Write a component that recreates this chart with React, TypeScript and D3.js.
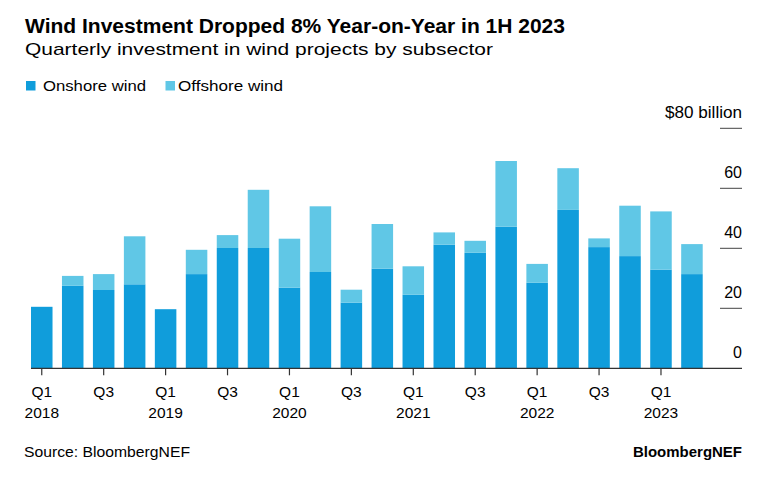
import React from "react";
import * as d3 from "d3";

const quarters = [
  "Q1 2018", "Q2 2018", "Q3 2018", "Q4 2018",
  "Q1 2019", "Q2 2019", "Q3 2019", "Q4 2019",
  "Q1 2020", "Q2 2020", "Q3 2020", "Q4 2020",
  "Q1 2021", "Q2 2021", "Q3 2021", "Q4 2021",
  "Q1 2022", "Q2 2022", "Q3 2022", "Q4 2022",
  "Q1 2023", "Q2 2023",
];
const onshore = [
  20.5, 27.5, 26.1, 28.0,
  19.7, 31.4, 40.1, 40.1,
  26.9, 32.1, 21.9, 33.2,
  24.5, 41.2, 38.5, 47.2,
  28.5, 52.8, 40.4, 37.4,
  32.9, 31.4,
];
const offshore = [
  0.0, 3.3, 5.3, 16.0,
  0.0, 8.1, 4.3, 19.4,
  16.3, 21.9, 4.3, 14.9,
  9.5, 4.1, 4.0, 21.9,
  6.3, 13.9, 2.9, 16.8,
  19.4, 10.0,
];
const yTicks = [0, 20, 40, 60, 80];
const seriesNames = ["Onshore wind", "Offshore wind"];
const colors = ["#109ddb", "#60c7e6"];

const FONT = "'Liberation Sans', Arial, Helvetica, sans-serif";

export default function App() {
  const W = 781, H = 479;
  const x = d3.scaleBand<string>()
    .domain(quarters)
    .range([31, 702.7])
    .paddingInner(0.305)
    .paddingOuter(0);
  const y = d3.scaleLinear().domain([0, 80]).range([368.3, 128.3]);

  const rows = quarters.map((q, i) => ({ q, onshore: onshore[i], offshore: offshore[i] }));
  const stack = d3.stack<any>().keys(["onshore", "offshore"])(rows);

  const bw = x.bandwidth();
  return (
    <svg width={W} height={H} style={{ position: "absolute", left: 0, top: 0, background: "#fff" }} fontFamily={FONT}>
      <rect width={W} height={H} fill="#fff" />
      <text x={25} y={33} fontSize={20} fontWeight="bold" fill="#000" textLength={540} lengthAdjust="spacingAndGlyphs">
        Wind Investment Dropped 8% Year-on-Year in 1H 2023
      </text>
      <text x={25} y={55} fontSize={17} fill="#000" textLength={468} lengthAdjust="spacingAndGlyphs">
        Quarterly investment in wind projects by subsector
      </text>
      {/* legend */}
      <rect x={26} y={81} width={9.5} height={9.5} fill={colors[0]} />
      <text x={43} y={90.5} fontSize={15.5} fill="#000" textLength={103} lengthAdjust="spacingAndGlyphs">{seriesNames[0]}</text>
      <rect x={165.5} y={81} width={9.5} height={9.5} fill={colors[1]} />
      <text x={178} y={90.5} fontSize={15.5} fill="#000" textLength={105} lengthAdjust="spacingAndGlyphs">{seriesNames[1]}</text>

      {/* bars */}
      {stack.map((s, si) => (
        <g key={si} fill={colors[si]}>
          {s.map((d: any, i: number) => (
            <rect key={i} x={x(quarters[i])} y={y(d[1])} width={bw} height={Math.max(0, y(d[0]) - y(d[1]))} />
          ))}
        </g>
      ))}

      {/* y axis */}
      {yTicks.map((t) => (
        <g key={t}>
          {t !== 0 && <line x1={720} x2={742} y1={y(t)} y2={y(t)} stroke="#444" strokeWidth={1} />}
          {t === 80 ? (
            <text x={742} y={y(t) - 10} fontSize={16} textAnchor="end" fill="#000" textLength={77} lengthAdjust="spacingAndGlyphs">$80 billion</text>
          ) : (
            <text x={742} y={y(t) - 10} fontSize={16} textAnchor="end" fill="#000">{t}</text>
          )}
        </g>
      ))}
      <line x1={31} x2={742} y1={y(0)} y2={y(0)} stroke="#333" strokeWidth={1.3} />

      {/* x axis */}
      {quarters.map((q, i) => {
        const [qq, yr] = q.split(" ");
        if (qq !== "Q1" && qq !== "Q3") return null;
        const cx = (x(q) as number) + bw / 2;
        return (
          <g key={q}>
            <line x1={cx} x2={cx} y1={y(0)} y2={y(0) + 7} stroke="#333" strokeWidth={1.2} />
            <text x={cx} y={397} fontSize={15.5} textAnchor="middle" fill="#000">{qq}</text>
            {qq === "Q1" && (
              <text x={cx} y={418} fontSize={15.5} textAnchor="middle" fill="#000">{yr}</text>
            )}
          </g>
        );
      })}

      <text x={24} y={457} fontSize={15} fill="#000" textLength={166} lengthAdjust="spacingAndGlyphs">Source: BloombergNEF</text>
      <text x={742} y={457} fontSize={15} fontWeight="bold" textAnchor="end" fill="#000" textLength={109} lengthAdjust="spacingAndGlyphs">BloombergNEF</text>
    </svg>
  );
}
